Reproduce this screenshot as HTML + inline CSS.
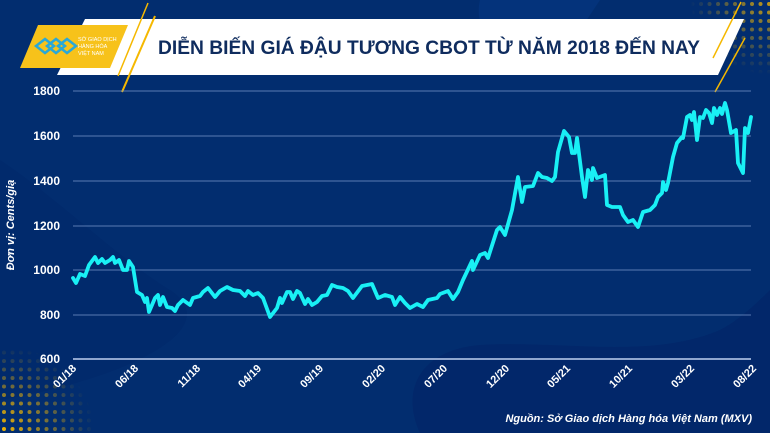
<!DOCTYPE html>
<html><head><meta charset="utf-8"><style>
html,body{margin:0;padding:0;width:770px;height:433px;overflow:hidden;background:#022d6f}
svg{display:block}
text{font-family:"Liberation Sans",sans-serif}
</style></head><body>
<svg width="770" height="433" viewBox="0 0 770 433" xmlns="http://www.w3.org/2000/svg">
<defs>
<radialGradient id="dots" cx="0" cy="1" r="1"><stop offset="0" stop-color="#fff"/><stop offset="1" stop-color="#fff" stop-opacity="0"/></radialGradient>
<pattern id="dp" width="8.5" height="8.5" patternUnits="userSpaceOnUse"><circle cx="4" cy="4" r="2" fill="#f5b800"/></pattern>
<mask id="dm"><rect x="0" y="345" width="95" height="88" fill="url(#dots)"/></mask>
<mask id="dm2"><rect x="690" y="0" width="80" height="75" fill="url(#dots2)"/></mask>
<radialGradient id="dots2" cx="1" cy="0" r="1"><stop offset="0" stop-color="#fff"/><stop offset="1" stop-color="#fff" stop-opacity="0"/></radialGradient>
</defs>
<rect width="770" height="433" fill="#022d6f"/>
<path d="M0 160 C60 200 120 260 170 290 C230 330 120 380 0 400Z" fill="#02286a" opacity="0.6"/>
<path d="M420 433 C400 390 420 350 480 345 C560 340 650 360 720 330 C740 320 760 300 770 290 L770 433Z" fill="#02276a"/>
<path d="M480 0 C470 40 520 80 560 60 L600 0Z" fill="#053a87" opacity="0.5"/>
<rect x="0" y="345" width="95" height="88" fill="url(#dp)" mask="url(#dm)"/>
<rect x="690" y="0" width="80" height="75" fill="url(#dp)" mask="url(#dm2)" opacity="0.8"/>
<!-- banner -->
<polygon points="85,19 744,19 718,75 57,75" fill="#ffffff"/>
<polygon points="38,25 128,25 110,68 20,68" fill="#f7c21a"/>
<line x1="148" y1="3" x2="118" y2="76" stroke="#f5b800" stroke-width="1.5"/>
<line x1="155" y1="16" x2="122" y2="92" stroke="#f5b800" stroke-width="2"/>
<line x1="741" y1="2" x2="713" y2="58" stroke="#f5b800" stroke-width="1.5"/>
<line x1="745" y1="38" x2="715" y2="92" stroke="#f5b800" stroke-width="1.5"/>
<g fill="none" stroke="#29a8d8" stroke-width="2.5">
<path d="M36 46 l9 -7 l9 7 l-9 7z"/><path d="M47 46 l9 -7 l9 7 l-9 7z"/><path d="M58 46 l9 -7 l9 7 l-9 7z"/>
</g>
<text x="78" y="41" font-size="5.5" fill="#fff">SỞ GIAO DỊCH</text>
<text x="78" y="48" font-size="5.5" fill="#fff">HÀNG HÓA</text>
<text x="78" y="55" font-size="5.5" fill="#fff">VIỆT NAM</text>
<text x="429" y="54" font-size="19" font-weight="bold" fill="#0f2c5e" text-anchor="middle" textLength="542" lengthAdjust="spacingAndGlyphs">DIỄN BIẾN GIÁ ĐẬU TƯƠNG CBOT TỪ NĂM 2018 ĐẾN NAY</text>
<!-- grid -->
<g stroke="#6f8fc4" stroke-width="1" opacity="0.8">
<line x1="73" y1="91" x2="751" y2="91"/><line x1="73" y1="136" x2="751" y2="136"/>
<line x1="73" y1="181" x2="751" y2="181"/><line x1="73" y1="226" x2="751" y2="226"/>
<line x1="73" y1="270" x2="751" y2="270"/><line x1="73" y1="315" x2="751" y2="315"/>
</g>
<line x1="73" y1="359" x2="751" y2="359" stroke="#8fa6cf" stroke-width="2"/>
<g font-size="12" font-weight="bold" fill="#fff" text-anchor="end">
<text x="60" y="95">1800</text><text x="60" y="140">1600</text><text x="60" y="185">1400</text>
<text x="60" y="230">1200</text><text x="60" y="274">1000</text><text x="60" y="319">800</text><text x="60" y="363">600</text>
</g>
<text transform="translate(14,225) rotate(-90)" font-size="11" font-weight="bold" font-style="italic" fill="#fff" text-anchor="middle">Đơn vị: Cents/giạ</text>
<g font-size="11" font-weight="bold" fill="#fff" text-anchor="end">
<text transform="translate(77,369) rotate(-45)">01/18</text>
<text transform="translate(139,369) rotate(-45)">06/18</text>
<text transform="translate(201,369) rotate(-45)">11/18</text>
<text transform="translate(262,369) rotate(-45)">04/19</text>
<text transform="translate(324,369) rotate(-45)">09/19</text>
<text transform="translate(386,369) rotate(-45)">02/20</text>
<text transform="translate(448,369) rotate(-45)">07/20</text>
<text transform="translate(510,369) rotate(-45)">12/20</text>
<text transform="translate(571,369) rotate(-45)">05/21</text>
<text transform="translate(633,369) rotate(-45)">10/21</text>
<text transform="translate(695,369) rotate(-45)">03/22</text>
<text transform="translate(757,369) rotate(-45)">08/22</text>
</g>
<text x="752" y="422" font-size="11" font-weight="bold" font-style="italic" fill="#fff" text-anchor="end">Nguồn: Sở Giao dịch Hàng hóa Việt Nam (MXV)</text>
<polyline fill="none" stroke="#19f0f5" stroke-width="3.8" stroke-linejoin="round" stroke-linecap="round" points="73,278 76,283 80,274 85,276 89,265 95,257 98,263 102,259 105,263 110,260 113,257 115,263 119,260 123,270 127,270 129,261 133,267 137,292 142,295 145,302 147,298 149,312 155,298 158,295 160,305 163,297 167,307 172,308 175,311 178,305 183,300 190,305 193,298 200,296 203,292 208,288 215,297 220,291 227,287 233,290 240,291 245,296 248,291 253,295 258,293 263,298 270,317 277,308 280,298 282,303 287,292 290,292 293,299 297,291 300,293 305,304 308,299 312,305 317,302 322,296 327,295 332,285 337,287 343,288 348,291 353,298 362,286 372,284 378,298 385,295 392,297 395,305 400,297 405,303 410,308 417,304 423,307 428,300 437,298 440,294 448,291 453,299 458,292 463,280 472,261 473,270 480,255 485,253 488,258 497,230 500,227 505,235 512,210 518,177 522,202 525,187 533,186 538,173 542,177 547,178 552,181 555,177 558,152 564,131 569,137 572,153 575,153 577,138 582,177 585,197 588,170 592,180 593,168 597,178 605,175 607,205 612,207 620,207 623,215 628,222 633,220 638,227 643,212 650,210 655,205 658,197 662,193 663,182 666,190 668,183 673,157 677,143 682,137 683,138 687,117 690,115 692,120 694,112 697,140 700,117 703,118 706,110 709,113 712,123 714,108 717,115 720,108 722,114 725,103 727,110 731,133 736,130 738,163 743,173 745,128 748,133 751,117"/>
</svg>
</body></html>
